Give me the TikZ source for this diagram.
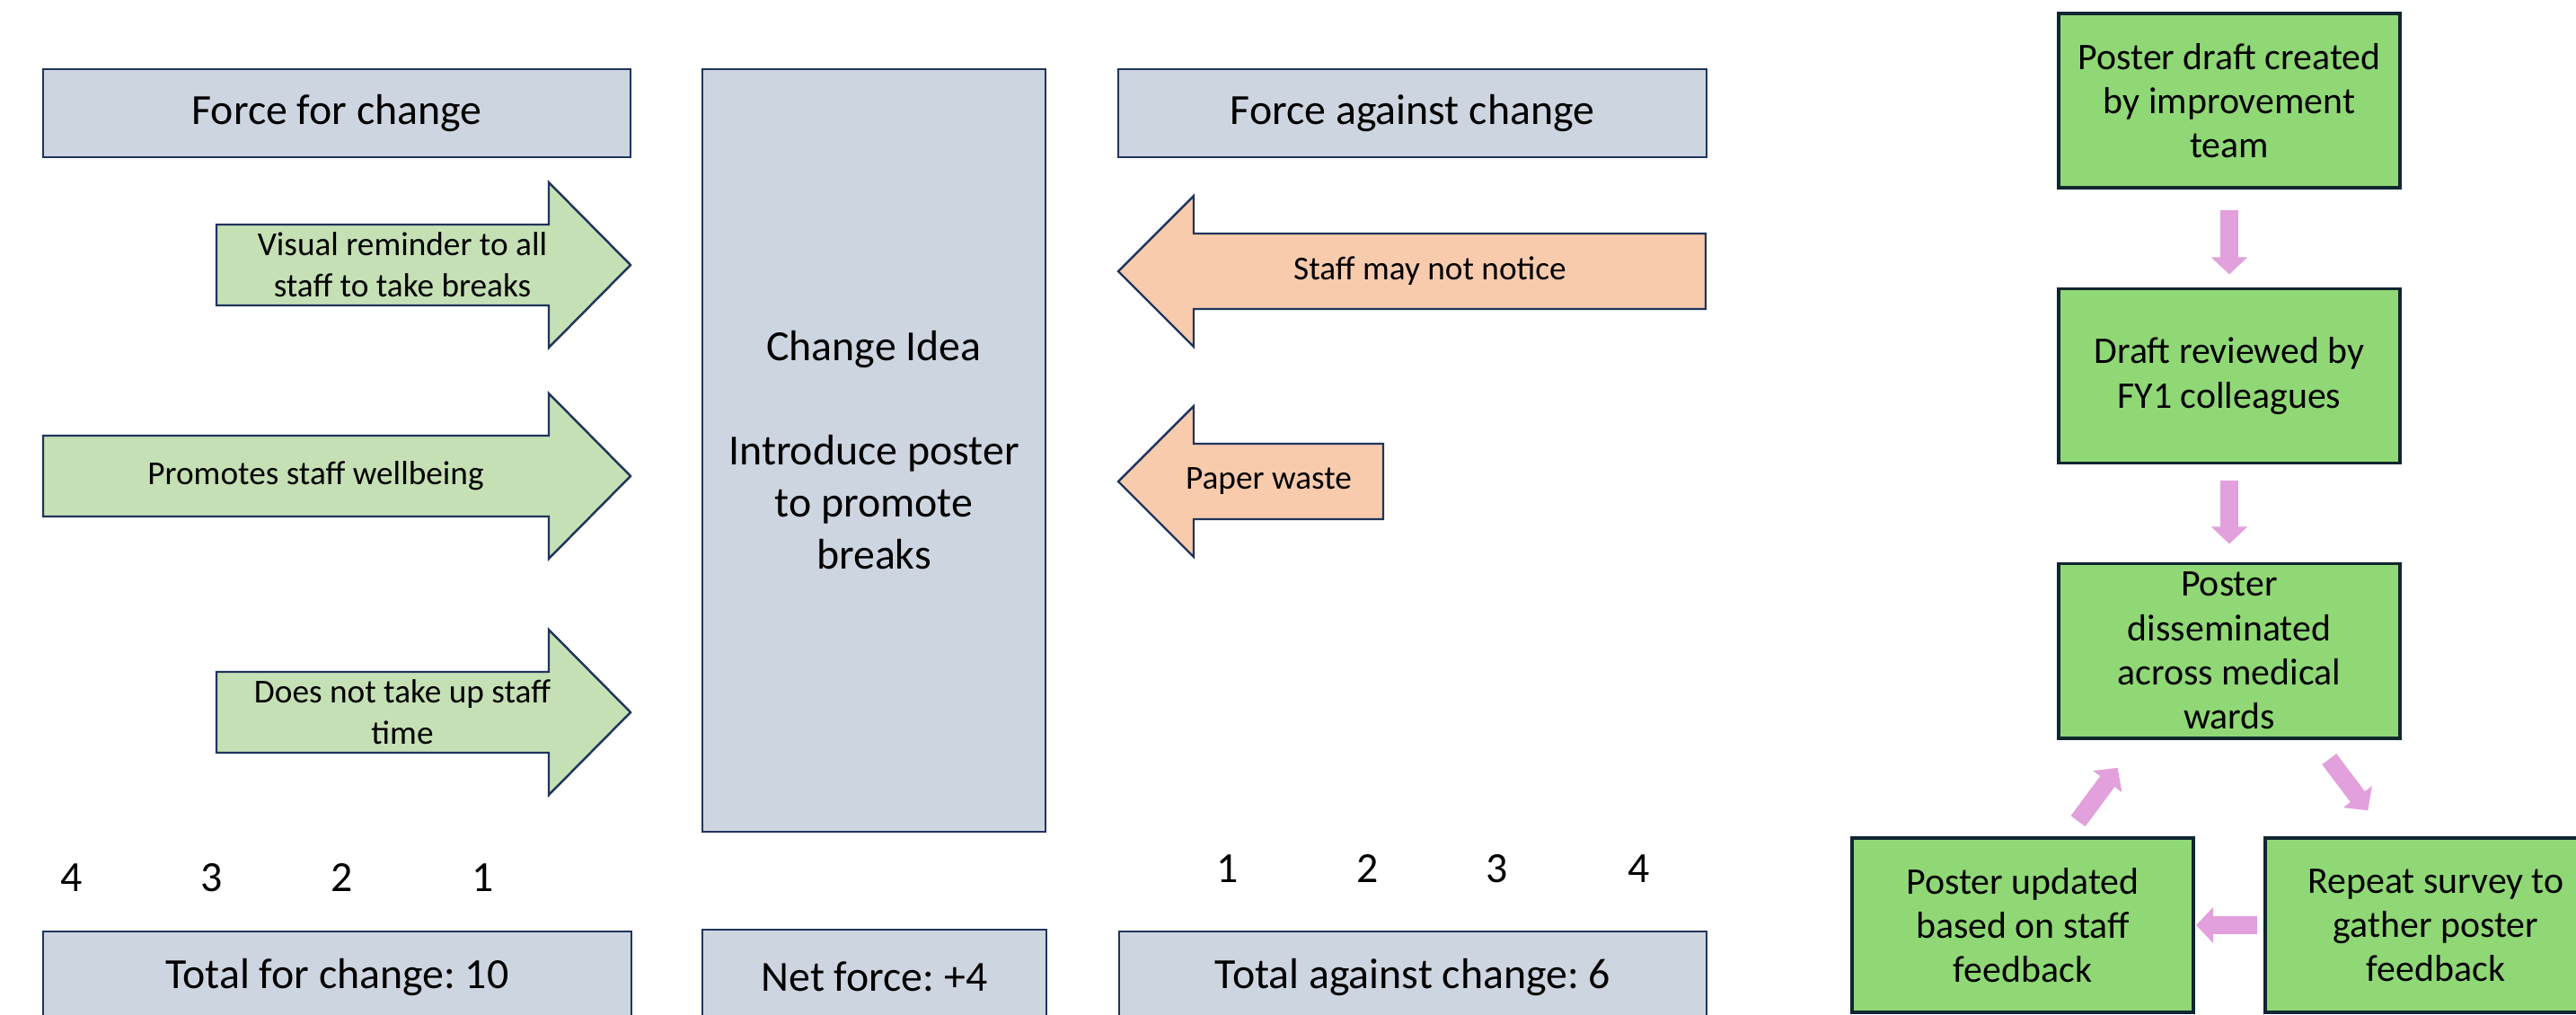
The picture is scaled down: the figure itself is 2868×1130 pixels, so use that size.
\documentclass[tikz,border=0pt]{standalone}
\usepackage{fontspec}
\setmainfont{Carlito}
\usetikzlibrary{arrows.meta}
\frenchspacing

\definecolor{panelfill}{RGB}{205,213,224}
\definecolor{panelline}{RGB}{32,52,92}
\definecolor{forfill}{RGB}{197,224,180}
\definecolor{againstfill}{RGB}{248,203,173}
\definecolor{stepfill}{RGB}{144,216,118}
\definecolor{stepline}{RGB}{16,38,48}
\definecolor{loopfill}{RGB}{226,160,220}

\begin{document}
\begin{tikzpicture}[x=0.01cm, y=-0.01cm,
        panel/.style={draw=panelline, fill=panelfill, line width=0.7pt, inner sep=0pt, align=center,
                font=\fontsize{13.6pt}{16.5pt}\selectfont},
        forarrow/.style={draw=panelline, fill=forfill, line width=0.7pt},
        againstarrow/.style={draw=panelline, fill=againstfill, line width=0.7pt},
        armtext/.style={inner sep=0pt, align=center, font=\fontsize{10.6pt}{13pt}\selectfont},
        score/.style={inner sep=0pt, font=\fontsize{13.6pt}{16pt}\selectfont},
        stepbox/.style={draw=stepline, fill=stepfill, line width=1.1pt, minimum width=3.8cm, minimum height=1.94cm,
                inner sep=0pt, align=center, font=\fontsize{11.9pt}{14pt}\selectfont},
        looparrow/.style={draw=loopfill, line width=0.2cm, -{Triangle[width=0.39cm, length=0.19cm]}}]

    \clip (0,0) rectangle (2868,1130);

    % Draw the headers and the change idea in the middle
    \node[panel, minimum width=6.54cm, minimum height=0.98cm] (forhead) at (375,126) {Force for change};
    \node[panel, minimum width=6.55cm, minimum height=0.98cm] (againsthead) at (1572.5,126) {Force against change};
    \node[panel, minimum width=3.82cm, minimum height=8.49cm] (idea) at (973,501.5)
        {Change Idea\\[16.5pt]Introduce poster\\to promote\\breaks};

    % Draw the forces for change (pointing right)
    \foreach \xl/\yc/\name/\txt in {241/295/reminder/{Visual reminder to all\\staff to take breaks},
            48/530/wellbeing/{Promotes staff wellbeing},
            241/793/stafftime/{Does not take up staff\\time}} {
        \draw[forarrow] (\xl,\yc-45) -- (611,\yc-45) -- (611,\yc-92) -- (702,\yc)
            -- (611,\yc+92) -- (611,\yc+45) -- (\xl,\yc+45) -- cycle;
        \node[armtext] (\name) at ({(\xl+611)/2+22},\yc) {\txt};
    }

    % Draw the forces against change (pointing left)
    \foreach \xr/\yc/\name/\txt in {1899/302/notice/{Staff may not notice},
            1540/536/waste/{Paper waste}} {
        \draw[againstarrow] (\xr,\yc-42) -- (1329,\yc-42) -- (1329,\yc-84) -- (1245,\yc)
            -- (1329,\yc+84) -- (1329,\yc+42) -- (\xr,\yc+42) -- cycle;
        \node[armtext] (\name) at ({(\xr+1329)/2-22},\yc) {\txt};
    }

    % Scores under each side
    \foreach \x [count=\i] in {538,381,236,80}
        \node[score] (for\i) at (\x,977) {\i};
    \foreach \x [count=\i] in {1367,1523,1667,1825}
        \node[score] (against\i) at (\x,967) {\i};

    % Totals along the bottom
    \node[panel, minimum width=6.55cm, minimum height=1.02cm] (fortotal) at (375.5,1088) {Total for change: 10};
    \node[panel, minimum width=3.83cm, minimum height=1.04cm] (net) at (973.5,1087) {Net force: +4};
    \node[panel, minimum width=6.54cm, minimum height=1.02cm] (againsttotal) at (1573,1088) {Total against change: 6};

    % Steps of the poster cycle
    \node[stepbox] (draft) at (2482,112) {Poster draft created\\by improvement\\team};
    \node[stepbox] (review) at (2482,418.5) {Draft reviewed by\\FY1 colleagues};
    \node[stepbox] (spread) at (2482,724.5) {Poster\\disseminated\\across medical\\wards};
    \node[stepbox] (update) at (2252,1030) {Poster updated\\based on staff\\feedback};
    \node[stepbox] (survey) at (2712,1030) {Repeat survey to\\gather poster\\feedback};

    \draw[looparrow, shorten <=0.23cm, shorten >=0.14cm] (draft) -- (review);
    \draw[looparrow, shorten <=0.17cm, shorten >=0.20cm] (review) -- (spread);
    \draw[looparrow, shorten <=0.27cm, shorten >=0.36cm] ([xshift=0.95cm]spread.south) -- ([xshift=-0.54cm]survey.north);
    \draw[looparrow, shorten <=0.07cm, shorten >=0.01cm] (survey) -- (update);
    \draw[looparrow, shorten <=0.21cm, shorten >=0.39cm] ([xshift=0.49cm]update.north) -- ([xshift=-1.01cm]spread.south);

\end{tikzpicture}
\end{document}
